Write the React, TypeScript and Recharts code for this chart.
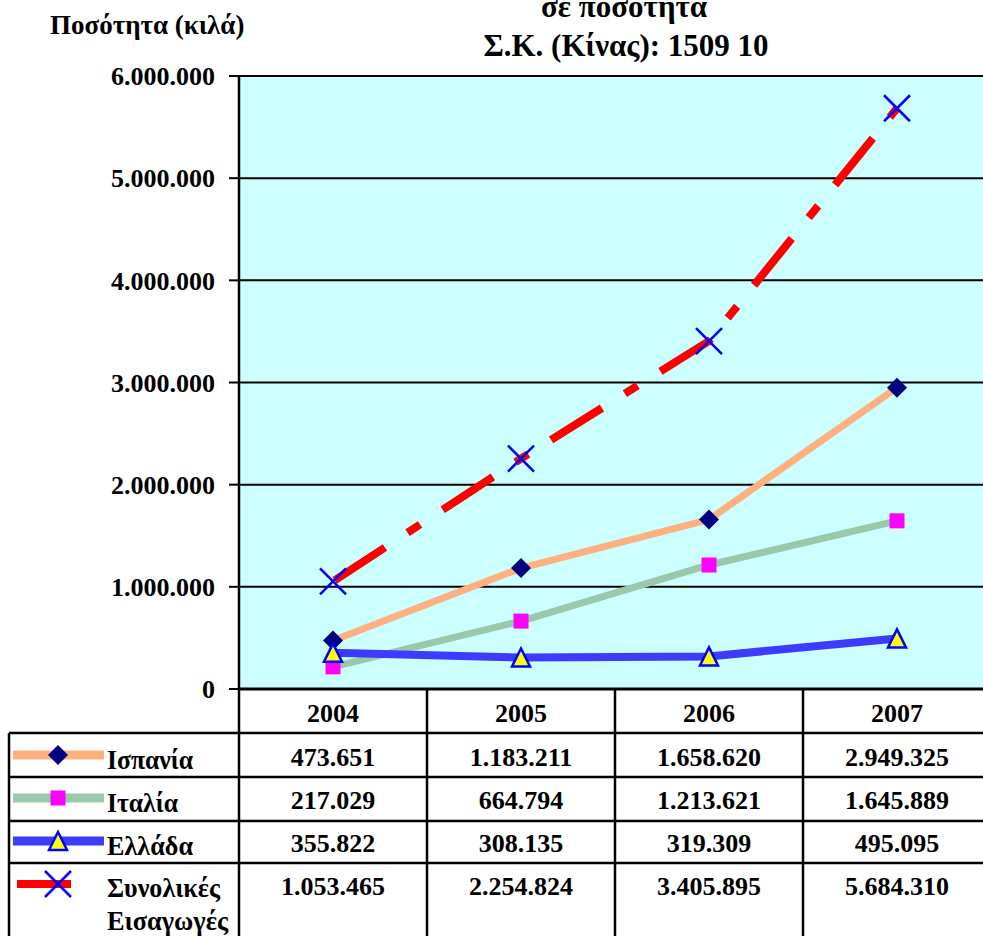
import React from 'react';
import { LineChart, Line, XAxis, YAxis, CartesianGrid } from 'recharts';

const years = ['2004', '2005', '2006', '2007'];
const spain = [473651, 1183211, 1658620, 2949325];
const italy = [217029, 664794, 1213621, 1645889];
const greece = [355822, 308135, 319309, 495095];
const total = [1053465, 2254824, 3405895, 5684310];
const yTicks = [0, 1000000, 2000000, 3000000, 4000000, 5000000, 6000000];

const titleLines = ['σε ποσοτητα', 'Σ.Κ. (Κίνας): 1509 10'];
const yLabel = 'Ποσότητα (κιλά)';

const data = years.map((year, i) => ({
  year,
  spain: spain[i],
  italy: italy[i],
  greece: greece[i],
  total: total[i],
}));

const FONT = "'Liberation Serif', 'Times New Roman', serif";
const W = 991; // plot runs a bit past the visible 983px, like the original
const H = 712;
const PLOT_LEFT = 239;
const COL_W = (W - PLOT_LEFT) / years.length;

const fmt = (n: number) => String(n).replace(/\B(?=(\d{3})+(?!\d))/g, '.');

const Diamond = ({ cx, cy }: { cx: number; cy: number }) => (
  <path d={`M${cx},${cy - 10}L${cx + 10},${cy}L${cx},${cy + 10}L${cx - 10},${cy}Z`} fill="#000080" />
);
const Square = ({ cx, cy }: { cx: number; cy: number }) => (
  <rect x={cx - 7.5} y={cy - 7.5} width={15} height={15} fill="#FF00FF" />
);
const Triangle = ({ cx, cy }: { cx: number; cy: number }) => (
  <path
    d={`M${cx},${cy - 9}L${cx + 9},${cy + 9}L${cx - 9},${cy + 9}Z`}
    fill="#FFFF00"
    stroke="#0000FF"
    strokeWidth={2.5}
  />
);
const Cross = ({ cx, cy }: { cx: number; cy: number }) => (
  <g stroke="#0000FF" strokeWidth={2.5}>
    <line x1={cx - 13} y1={cy - 13} x2={cx + 13} y2={cy + 13} />
    <line x1={cx - 13} y1={cy + 13} x2={cx + 13} y2={cy - 13} />
  </g>
);

const series = [
  { key: 'spain', name: 'Ισπανία', color: '#FFB080', width: 7, Marker: Diamond, values: spain },
  { key: 'italy', name: 'Ιταλία', color: '#99C9AA', width: 7, Marker: Square, values: italy },
  { key: 'greece', name: 'Ελλάδα', color: '#3C3CFF', width: 8, Marker: Triangle, values: greece },
  { key: 'total', name: 'Συνολικές Εισαγωγές', color: '#FF0000', width: 8, Marker: Cross, values: total },
];

// table geometry (pixels)
const headerTop = 689;
const rowLines = [733, 777, 821, 863];
const rowBaselines = [766, 809, 852, 895];
const labelWidths = [86, 71, 86, 113];

const txt = { fontFamily: FONT, fontWeight: 'bold' as const, fill: '#000' };

function Overlay() {
  const colEdges = years.map((_, i) => PLOT_LEFT + i * COL_W);
  return (
    <svg width={W} height={936} style={{ position: 'absolute', left: 0, top: 0 }}>
      <text x={50} y={34} fontSize={27} {...txt}>{yLabel}</text>
      <text x={624} y={17} fontSize={31} textAnchor="middle" {...txt}>{titleLines[0]}</text>
      <text x={626} y={56} fontSize={31} textAnchor="middle" {...txt}>{titleLines[1]}</text>

      <g stroke="#000" strokeWidth={2.5}>
        <line x1={PLOT_LEFT} y1={headerTop} x2={W} y2={headerTop} strokeWidth={3} />
        {rowLines.map((y) => (
          <line key={y} x1={9} y1={y} x2={W} y2={y} />
        ))}
        <line x1={9} y1={rowLines[0]} x2={9} y2={936} />
        {colEdges.map((x) => (
          <line key={x} x1={x} y1={headerTop} x2={x} y2={936} />
        ))}
      </g>

      {years.map((y, i) => (
        <text key={y} x={colEdges[i] + COL_W / 2} y={722} fontSize={26} textAnchor="middle" {...txt}>
          {y}
        </text>
      ))}

      {series.map((s, r) => {
        const cy = rowBaselines[r] - 11;
        const isTotal = s.key === 'total';
        const words = s.name.split(' ');
        return (
          <g key={s.key}>
            {isTotal ? (
              <rect x={17} y={cy - 4} width={54} height={8} fill={s.color} />
            ) : (
              <rect x={13} y={cy - 4.5} width={91} height={9} fill={s.color} />
            )}
            <s.Marker cx={58} cy={cy} />
            {isTotal ? (
              <>
                <text x={107} y={rowBaselines[r] + 2} fontSize={27} textLength={113} lengthAdjust="spacingAndGlyphs" {...txt}>
                  {words[0]}
                </text>
                <text x={107} y={930} fontSize={27} textLength={121} lengthAdjust="spacingAndGlyphs" {...txt}>
                  {words[1]}
                </text>
              </>
            ) : (
              <text x={107} y={rowBaselines[r] + 3} fontSize={28} textLength={labelWidths[r]} lengthAdjust="spacingAndGlyphs" {...txt}>
                {s.name}
              </text>
            )}
            {s.values.map((v, i) => (
              <text key={i} x={colEdges[i] + COL_W / 2} y={rowBaselines[r]} fontSize={26} textAnchor="middle" {...txt}>
                {fmt(v)}
              </text>
            ))}
          </g>
        );
      })}
    </svg>
  );
}

export default function App() {
  return (
    <div
      style={{
        position: 'absolute',
        left: 0,
        top: 0,
        width: 983,
        height: 936,
        overflow: 'hidden',
        background: '#fff',
      }}
    >
      <div style={{ position: 'absolute', left: 0, top: 0 }}>
        <LineChart width={W} height={H} data={data} margin={{ top: 76, right: 0, bottom: H - headerTop, left: 0 }}>
          <CartesianGrid vertical={false} stroke="#000" strokeWidth={2} fill="#CCFFFF" fillOpacity={1} />
          <XAxis dataKey="year" hide padding={{ left: COL_W / 2, right: COL_W / 2 }} />
          <YAxis
            width={PLOT_LEFT}
            domain={[0, 6000000]}
            ticks={yTicks}
            interval={0}
            tickFormatter={fmt}
            tickSize={10}
            tickMargin={14}
            axisLine={{ stroke: '#000', strokeWidth: 2.5 }}
            tickLine={{ stroke: '#000', strokeWidth: 2 }}
            tick={{ fontFamily: FONT, fontWeight: 'bold', fontSize: 26, fill: '#000' }}
          />
          {series.map((s) => (
            <Line
              key={s.key}
              dataKey={s.key}
              name={s.name}
              type="linear"
              stroke={s.color}
              strokeWidth={s.width}
              strokeDasharray={s.key === 'total' ? '60 27 15 27' : undefined}
              strokeDashoffset={s.key === 'total' ? -2 : undefined}
              isAnimationActive={false}
              dot={(p: any) => <s.Marker key={`${s.key}-${p.index}`} cx={p.cx} cy={p.cy} />}
              activeDot={false}
            />
          ))}
        </LineChart>
      </div>
      <Overlay />
    </div>
  );
}
